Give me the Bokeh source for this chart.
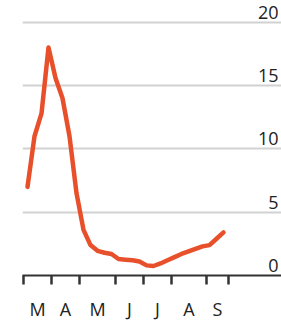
from bokeh.plotting import figure
from bokeh.models import FixedTicker, Range1d, ColumnDataSource
from bokeh.core.properties import value
from bokeh.embed import file_html
from bokeh.resources import INLINE

# weekly observations, x = days since 1 March
days = [4, 11, 18, 25, 32, 39, 46, 53, 60, 67, 74, 81, 88, 95, 102, 109, 116,
        123, 130, 137, 144, 151, 158, 165, 172, 179, 186, 193, 200]
values = [7.0, 11.0, 12.8, 18.0, 15.6, 14.0, 11.0, 6.5, 3.6, 2.4, 1.95, 1.8, 1.7,
          1.3, 1.25, 1.2, 1.1, 0.8, 0.75, 0.95, 1.2, 1.45, 1.7, 1.9, 2.1, 2.3,
          2.4, 2.9, 3.4]

month_bounds = [0, 28, 56, 92, 120, 148, 183, 205]
month_labels = ["M", "A", "M", "J", "J", "A", "S"]
y_ticks = [0, 5, 10, 15, 20]
y_labels = ["0", "5", "10", "15", "20"]

FONT = "Open Sans"

p = figure(width=281, height=323, output_backend="svg", toolbar_location=None,
           x_range=Range1d(-1, 258), y_range=Range1d(0, 21.72),
           min_border_left=22, min_border_right=0, min_border_top=0,
           min_border_bottom=45)
p.outline_line_color = None
p.background_fill_color = "white"
p.border_fill_color = "white"

p.yaxis.visible = False
p.xgrid.visible = False
p.ygrid.ticker = FixedTicker(ticks=y_ticks)
p.ygrid.grid_line_color = "#d2d2d2"
p.ygrid.grid_line_width = 2

mids = [(a + b) / 2 for a, b in zip(month_bounds[:-1], month_bounds[1:])]
ax = p.xaxis[0]
ax.ticker = FixedTicker(ticks=mids, minor_ticks=month_bounds)
ax.major_label_overrides = {m: l for m, l in zip(mids, month_labels)}
ax.major_tick_out = 0
ax.major_tick_in = 0
ax.minor_tick_out = 9
ax.minor_tick_in = 0
ax.minor_tick_line_color = "#333333"
ax.minor_tick_line_width = 2.5
ax.axis_line_color = "#333333"
ax.axis_line_width = 2
ax.major_label_standoff = 12
ax.major_label_text_font = FONT
ax.major_label_text_font_size = "18px"
ax.major_label_text_color = "#222222"

src = ColumnDataSource(dict(x=days, y=values))
p.line("x", "y", source=src, line_color="#e8502b", line_width=4.5,
       line_join="round", line_cap="round")

lab = ColumnDataSource(dict(x=[258] * len(y_ticks), y=y_ticks, t=y_labels))
p.text("x", "y", text="t", source=lab, text_align="right",
       text_baseline="alphabetic", x_offset=-3, y_offset=-10,
       text_font=value(FONT), text_font_size="18px", text_color="#222222")

open("out.html", "w").write(file_html(p, INLINE))
